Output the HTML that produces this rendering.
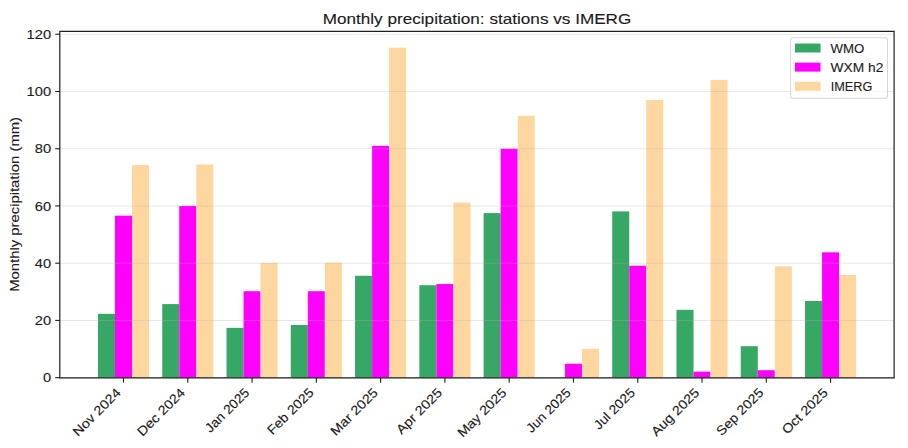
<!DOCTYPE html><html><head><meta charset="utf-8"><style>html,body{margin:0;padding:0;background:#fff;width:908px;height:448px;overflow:hidden}svg{display:block}text{font-family:"Liberation Sans",sans-serif;fill:#1a1a1a;stroke:#1a1a1a;stroke-width:0.12px}</style></head><body>
<svg width="908" height="448" viewBox="0 0 908 448">
<rect x="0" y="0" width="908" height="448" fill="#fff"/>
<rect x="97.95" y="313.83" width="17.03" height="63.82" fill="#37a766"/>
<rect x="114.98" y="215.68" width="17.03" height="161.97" fill="#ff00ff"/>
<rect x="132.01" y="165.03" width="17.03" height="212.62" fill="#fed69f"/>
<rect x="162.24" y="304.10" width="17.03" height="73.55" fill="#37a766"/>
<rect x="179.26" y="205.95" width="17.03" height="171.70" fill="#ff00ff"/>
<rect x="196.30" y="164.45" width="17.03" height="213.20" fill="#fed69f"/>
<rect x="226.51" y="327.86" width="17.03" height="49.79" fill="#37a766"/>
<rect x="243.55" y="291.23" width="17.03" height="86.42" fill="#ff00ff"/>
<rect x="260.57" y="262.90" width="17.03" height="114.75" fill="#fed69f"/>
<rect x="290.80" y="324.99" width="17.03" height="52.66" fill="#37a766"/>
<rect x="307.83" y="291.23" width="17.03" height="86.42" fill="#ff00ff"/>
<rect x="324.86" y="262.61" width="17.03" height="115.04" fill="#fed69f"/>
<rect x="355.07" y="275.77" width="17.03" height="101.88" fill="#37a766"/>
<rect x="372.11" y="145.85" width="17.03" height="231.80" fill="#ff00ff"/>
<rect x="389.13" y="47.70" width="17.03" height="329.95" fill="#fed69f"/>
<rect x="419.35" y="285.22" width="17.03" height="92.43" fill="#37a766"/>
<rect x="436.38" y="284.07" width="17.03" height="93.58" fill="#ff00ff"/>
<rect x="453.41" y="202.51" width="17.03" height="175.14" fill="#fed69f"/>
<rect x="483.63" y="213.10" width="17.03" height="164.55" fill="#37a766"/>
<rect x="500.67" y="148.71" width="17.03" height="228.94" fill="#ff00ff"/>
<rect x="517.70" y="115.80" width="17.03" height="261.85" fill="#fed69f"/>
<rect x="564.95" y="363.74" width="17.03" height="13.91" fill="#ff00ff"/>
<rect x="581.98" y="348.86" width="17.03" height="28.79" fill="#fed69f"/>
<rect x="612.20" y="211.39" width="17.03" height="166.26" fill="#37a766"/>
<rect x="629.23" y="265.76" width="17.03" height="111.89" fill="#ff00ff"/>
<rect x="646.25" y="100.07" width="17.03" height="277.58" fill="#fed69f"/>
<rect x="676.48" y="309.83" width="17.03" height="67.82" fill="#37a766"/>
<rect x="693.50" y="371.64" width="17.03" height="6.01" fill="#ff00ff"/>
<rect x="710.53" y="80.03" width="17.03" height="297.62" fill="#fed69f"/>
<rect x="740.75" y="346.17" width="17.03" height="31.48" fill="#37a766"/>
<rect x="757.78" y="370.21" width="17.03" height="7.44" fill="#ff00ff"/>
<rect x="774.81" y="266.33" width="17.03" height="111.32" fill="#fed69f"/>
<rect x="805.04" y="300.96" width="17.03" height="76.69" fill="#37a766"/>
<rect x="822.07" y="252.31" width="17.03" height="125.34" fill="#ff00ff"/>
<rect x="839.10" y="274.91" width="17.03" height="102.74" fill="#fed69f"/>
<line x1="60.0" y1="377.65" x2="894.0" y2="377.65" stroke="#b0b0b0" stroke-opacity="0.3" stroke-width="1.02"/>
<line x1="60.0" y1="320.42" x2="894.0" y2="320.42" stroke="#b0b0b0" stroke-opacity="0.3" stroke-width="1.02"/>
<line x1="60.0" y1="263.18" x2="894.0" y2="263.18" stroke="#b0b0b0" stroke-opacity="0.3" stroke-width="1.02"/>
<line x1="60.0" y1="205.95" x2="894.0" y2="205.95" stroke="#b0b0b0" stroke-opacity="0.3" stroke-width="1.02"/>
<line x1="60.0" y1="148.71" x2="894.0" y2="148.71" stroke="#b0b0b0" stroke-opacity="0.3" stroke-width="1.02"/>
<line x1="60.0" y1="91.48" x2="894.0" y2="91.48" stroke="#b0b0b0" stroke-opacity="0.3" stroke-width="1.02"/>
<line x1="60.0" y1="34.25" x2="894.0" y2="34.25" stroke="#b0b0b0" stroke-opacity="0.3" stroke-width="1.02"/>
<rect x="790.4" y="37.7" width="97.1" height="60.5" rx="2.56" ry="2.56" fill="#fff" fill-opacity="0.8" stroke="#cccccc" stroke-opacity="0.8" stroke-width="1.02"/>
<rect x="794.95" y="43.54" width="25.6" height="8.96" fill="#37a766"/>
<text x="830.64" y="52.50" font-size="13.06" textLength="33.78" lengthAdjust="spacingAndGlyphs">WMO</text>
<rect x="794.95" y="62.64" width="25.6" height="8.96" fill="#ff00ff"/>
<text x="830.64" y="71.60" font-size="13.06" textLength="52.79" lengthAdjust="spacingAndGlyphs">WXM h2</text>
<rect x="794.95" y="81.74" width="25.6" height="8.96" fill="#fed69f"/>
<text x="830.64" y="90.70" font-size="13.06" textLength="41.72" lengthAdjust="spacingAndGlyphs">IMERG</text>
<path d="M59.8,30.7 V378.25 M894.1,30.7 V378.25 M59.2,31.3 H894.7 M59.2,377.84999999999997 H894.7" fill="none" stroke="#1e1e1e" stroke-width="1.2"/>
<line x1="55.22" y1="377.65" x2="60.0" y2="377.65" stroke="#1e1e1e" stroke-width="1.1"/>
<text x="51.04" y="382.32" font-size="13.06" text-anchor="end" textLength="8.14" lengthAdjust="spacingAndGlyphs">0</text>
<line x1="55.22" y1="320.42" x2="60.0" y2="320.42" stroke="#1e1e1e" stroke-width="1.1"/>
<text x="51.04" y="325.09" font-size="13.06" text-anchor="end" textLength="16.29" lengthAdjust="spacingAndGlyphs">20</text>
<line x1="55.22" y1="263.18" x2="60.0" y2="263.18" stroke="#1e1e1e" stroke-width="1.1"/>
<text x="51.04" y="267.86" font-size="13.06" text-anchor="end" textLength="16.29" lengthAdjust="spacingAndGlyphs">40</text>
<line x1="55.22" y1="205.95" x2="60.0" y2="205.95" stroke="#1e1e1e" stroke-width="1.1"/>
<text x="51.04" y="210.62" font-size="13.06" text-anchor="end" textLength="16.29" lengthAdjust="spacingAndGlyphs">60</text>
<line x1="55.22" y1="148.71" x2="60.0" y2="148.71" stroke="#1e1e1e" stroke-width="1.1"/>
<text x="51.04" y="153.39" font-size="13.06" text-anchor="end" textLength="16.29" lengthAdjust="spacingAndGlyphs">80</text>
<line x1="55.22" y1="91.48" x2="60.0" y2="91.48" stroke="#1e1e1e" stroke-width="1.1"/>
<text x="51.04" y="96.15" font-size="13.06" text-anchor="end" textLength="24.43" lengthAdjust="spacingAndGlyphs">100</text>
<line x1="55.22" y1="34.25" x2="60.0" y2="34.25" stroke="#1e1e1e" stroke-width="1.1"/>
<text x="51.04" y="38.92" font-size="13.06" text-anchor="end" textLength="24.43" lengthAdjust="spacingAndGlyphs">120</text>
<line x1="123.50" y1="377.65" x2="123.50" y2="382.63" stroke="#1e1e1e" stroke-width="1.1"/>
<text transform="translate(121.62,393.49) rotate(-45)" font-size="13.06" text-anchor="end" textLength="61.63" lengthAdjust="spacingAndGlyphs">Nov 2024</text>
<line x1="187.78" y1="377.65" x2="187.78" y2="382.63" stroke="#1e1e1e" stroke-width="1.1"/>
<text transform="translate(185.90,393.49) rotate(-45)" font-size="13.06" text-anchor="end" textLength="61.41" lengthAdjust="spacingAndGlyphs">Dec 2024</text>
<line x1="252.06" y1="377.65" x2="252.06" y2="382.63" stroke="#1e1e1e" stroke-width="1.1"/>
<text transform="translate(250.18,393.49) rotate(-45)" font-size="13.06" text-anchor="end" textLength="56.38" lengthAdjust="spacingAndGlyphs">Jan 2025</text>
<line x1="316.34" y1="377.65" x2="316.34" y2="382.63" stroke="#1e1e1e" stroke-width="1.1"/>
<text transform="translate(314.46,393.49) rotate(-45)" font-size="13.06" text-anchor="end" textLength="59.30" lengthAdjust="spacingAndGlyphs">Feb 2025</text>
<line x1="380.62" y1="377.65" x2="380.62" y2="382.63" stroke="#1e1e1e" stroke-width="1.1"/>
<text transform="translate(378.74,393.49) rotate(-45)" font-size="13.06" text-anchor="end" textLength="60.79" lengthAdjust="spacingAndGlyphs">Mar 2025</text>
<line x1="444.90" y1="377.65" x2="444.90" y2="382.63" stroke="#1e1e1e" stroke-width="1.1"/>
<text transform="translate(443.02,393.49) rotate(-45)" font-size="13.06" text-anchor="end" textLength="58.79" lengthAdjust="spacingAndGlyphs">Apr 2025</text>
<line x1="509.18" y1="377.65" x2="509.18" y2="382.63" stroke="#1e1e1e" stroke-width="1.1"/>
<text transform="translate(507.30,393.49) rotate(-45)" font-size="13.06" text-anchor="end" textLength="63.11" lengthAdjust="spacingAndGlyphs">May 2025</text>
<line x1="573.46" y1="377.65" x2="573.46" y2="382.63" stroke="#1e1e1e" stroke-width="1.1"/>
<text transform="translate(571.58,393.49) rotate(-45)" font-size="13.06" text-anchor="end" textLength="56.64" lengthAdjust="spacingAndGlyphs">Jun 2025</text>
<line x1="637.74" y1="377.65" x2="637.74" y2="382.63" stroke="#1e1e1e" stroke-width="1.1"/>
<text transform="translate(635.86,393.49) rotate(-45)" font-size="13.06" text-anchor="end" textLength="52.09" lengthAdjust="spacingAndGlyphs">Jul 2025</text>
<line x1="702.02" y1="377.65" x2="702.02" y2="382.63" stroke="#1e1e1e" stroke-width="1.1"/>
<text transform="translate(700.14,393.49) rotate(-45)" font-size="13.06" text-anchor="end" textLength="61.64" lengthAdjust="spacingAndGlyphs">Aug 2025</text>
<line x1="766.30" y1="377.65" x2="766.30" y2="382.63" stroke="#1e1e1e" stroke-width="1.1"/>
<text transform="translate(764.42,393.49) rotate(-45)" font-size="13.06" text-anchor="end" textLength="60.77" lengthAdjust="spacingAndGlyphs">Sep 2025</text>
<line x1="830.58" y1="377.65" x2="830.58" y2="382.63" stroke="#1e1e1e" stroke-width="1.1"/>
<text transform="translate(828.70,393.49) rotate(-45)" font-size="13.06" text-anchor="end" textLength="58.78" lengthAdjust="spacingAndGlyphs">Oct 2025</text>
<text transform="translate(18.7,204.4) rotate(-90)" font-size="13.06" text-anchor="middle" textLength="174.94" lengthAdjust="spacingAndGlyphs">Monthly precipitation (mm)</text>
<text x="477" y="23.7" font-size="15.32" text-anchor="middle" textLength="308.67" lengthAdjust="spacingAndGlyphs">Monthly precipitation: stations vs IMERG</text>
</svg></body></html>
